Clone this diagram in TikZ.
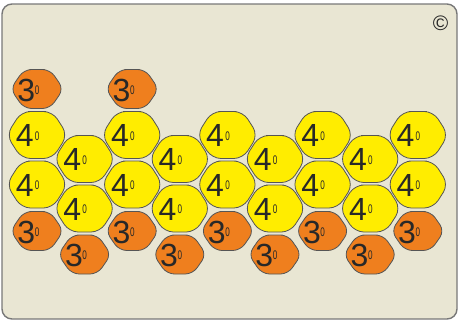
\documentclass[tikz,border=0pt]{standalone}
\usepackage{fontspec}
\setmainfont{Liberation Sans}
\definecolor{panelbg}{RGB}{233,230,211}
\definecolor{panelline}{RGB}{120,120,120}
\definecolor{tileyellow}{RGB}{255,237,0}
\definecolor{tileorange}{RGB}{239,127,30}
\definecolor{tileline}{RGB}{85,85,85}
\definecolor{digitgray}{RGB}{40,40,40}
\newcommand{\tinyzero}{\scalebox{0.65}[1]{\fontsize{12.5}{12.5}\selectfont 0}}

\begin{document}
\begin{tikzpicture}[
    x=1pt, y=-1pt,
    panel/.style={draw=panelline, fill=panelbg, line width=1.4pt, rounded corners=10pt},
    tile/.style={draw=tileline, line width=0.8pt},
    digit/.style={inner sep=0pt, anchor=base west, text=digitgray, font=\fontsize{32}{32}\selectfont},
    pics/yellowtile/.style={code={
        \draw[tile, fill=tileyellow, rounded corners=9pt] (0,-23.5) -- (15.5,-23.5) -- (30.5,0) -- (15.5,23.5)
            -- (-15.5,23.5) -- (-30.5,0) -- (-15.5,-23.5) -- cycle;
        \node[digit] (-num) at (-21.4,11.7) {4\kern1.3pt\raisebox{6.4pt}{\tinyzero}};
    }},
    pics/orangetile/.style={code={
        \draw[tile, fill=tileorange, rounded corners=7.5pt] (0,-19.5) -- (13,-19.5) -- (26.5,0) -- (13,19.5)
            -- (-13,19.5) -- (-26.5,0) -- (-13,-19.5) -- cycle;
        \node[digit] (-num) at (-19.8,12.3) {3\kern-0.3pt\raisebox{7.3pt}{\tinyzero}};
    }},
]
    \useasboundingbox (0,0) rectangle (459,322);
    % panel
    \draw[panel] (2,4) rectangle (457,319);
    \node[text=digitgray, font=\fontsize{21}{21}\selectfont] (copy) at (440.5,23.3) {\textcopyright};

    % top row (two tiles only)
    \pic (top0) at (37,89) {orangetile};
    \pic (top2) at (132.2,89) {orangetile};

    % even columns
    \foreach \i in {0,2,4,6,8} {
        \pic (ya\i) at ({37+47.6*\i},135) {yellowtile};
        \pic (yb\i) at ({37+47.6*\i},184.5) {yellowtile};
        \pic (oa\i) at ({37+47.6*\i},231) {orangetile};
    }

    % odd columns
    \foreach \i in {1,3,5,7} {
        \pic (ya\i) at ({37+47.6*\i},159) {yellowtile};
        \pic (yb\i) at ({37+47.6*\i},208.5) {yellowtile};
        \pic (oa\i) at ({37+47.6*\i},254.5) {orangetile};
    }
\end{tikzpicture}
\end{document}
